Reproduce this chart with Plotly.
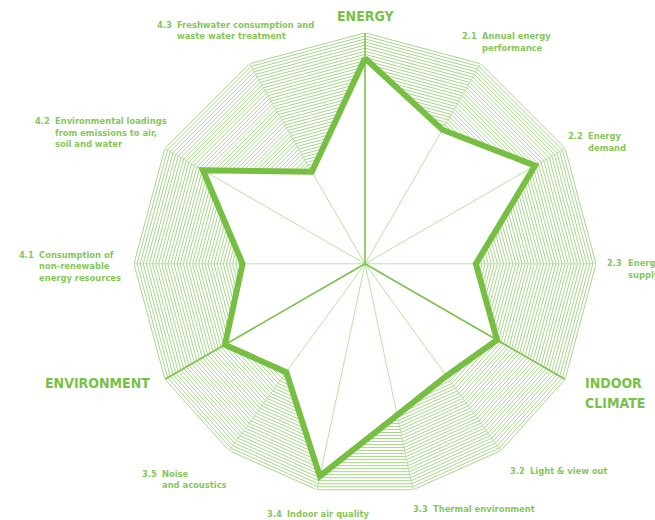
import plotly.graph_objects as go

# ---------------- data ----------------
axis_names = ["ENERGY", "2.1", "2.2", "2.3", "INDOOR CLIMATE", "3.2", "3.3",
              "3.4", "3.5", "ENVIRONMENT", "4.1", "4.2", "4.3"]
axis_angles = [0, 30, 60, 90, 120, 144, 168, 192, 216, 240, 270, 300, 330]
values = [89, 67, 85, 48, 66, 60, 67, 94, 58, 70, 53, 81, 46]
section_axes = ["ENERGY", "INDOOR CLIMATE", "ENVIRONMENT"]

item_codes = ["2.1", "2.2", "2.3", "3.2", "3.3", "3.4", "3.5", "4.1", "4.2", "4.3"]
item_texts = [
    ["Annual energy", "performance"],
    ["Energy", "demand"],
    ["Energy", "supply"],
    ["Light & view out"],
    ["Thermal environment"],
    ["Indoor air quality"],
    ["Noise", "and acoustics"],
    ["Consumption of", "non-renewable", "energy resources"],
    ["Environmental loadings", "from emissions to air,", "soil and water"],
    ["Freshwater consumption and", "waste water treatment"],
]
section_texts = [["ENERGY"], ["INDOOR", "CLIMATE"], ["ENVIRONMENT"]]

R_MAX = 100
N_LEVELS = 75

# ---------------- styles ----------------
W, H = 655, 520
CX, CY, RPX = 365, 263.8, 231
LINE_GREEN = "#77bf42"
HATCH = "#98ce76"
SPOKE_THIN = "#bbe1a3"
SPOKE_MAIN = "#7cc24b"
TEXT_GREEN = "#86c75b"
TITLE_GREEN = "#79c145"
FONT = "DejaVu Sans Condensed, Liberation Sans Narrow, sans-serif"

# label layout (pixels): number-left x, text-left x, first-line y
item_pos = {
    "2.1": (460, 480, 35.7),
    "2.2": (566, 586, 136),
    "2.3": (605, 626, 262.5),
    "3.2": (508, 528, 470),
    "3.3": (411, 431, 508.5),
    "3.4": (265, 285, 513),
    "3.5": (140, 160, 473),
    "4.1": (17, 36.7, 254.3),
    "4.2": (32.7, 53.3, 120.7),
    "4.3": (155, 175, 24),
}
section_pos = [(365, 16, "center"), (582.7, 383.3, "left"), (43, 383, "left")]
LINE_GAP = 11.5
SECTION_GAP = 19.4

fig = go.Figure()

# concentric hatch polygons
hr, ht = [], []
closed_angles = axis_angles + [axis_angles[0]]
for k in range(1, N_LEVELS + 1):
    r = R_MAX * k / N_LEVELS
    hr += [r] * len(closed_angles) + [None]
    ht += closed_angles + [None]
fig.add_trace(go.Scatterpolar(r=hr, theta=ht, mode="lines",
                              line=dict(color=HATCH, width=0.85),
                              hoverinfo="skip", connectgaps=False))

# white interior of the data polygon
closed_vals = values + [values[0]]
fig.add_trace(go.Scatterpolar(r=closed_vals, theta=closed_angles, mode="lines",
                              fill="toself", fillcolor="white",
                              line=dict(color="rgba(0,0,0,0)", width=0),
                              hoverinfo="skip"))

# spokes
tr, tt, mr, mt = [], [], [], []
for name, ang in zip(axis_names, axis_angles):
    if name in section_axes:
        mr += [0, R_MAX, None]; mt += [ang, ang, None]
    else:
        tr += [0, R_MAX, None]; tt += [ang, ang, None]
fig.add_trace(go.Scatterpolar(r=tr, theta=tt, mode="lines",
                              line=dict(color=SPOKE_THIN, width=1),
                              hoverinfo="skip", connectgaps=False))
fig.add_trace(go.Scatterpolar(r=mr, theta=mt, mode="lines",
                              line=dict(color=SPOKE_MAIN, width=1.6),
                              hoverinfo="skip", connectgaps=False))

# data line
fig.add_trace(go.Scatterpolar(r=closed_vals, theta=closed_angles, mode="lines",
                              line=dict(color=LINE_GREEN, width=6),
                              hoverinfo="skip"))

# ---------------- annotations ----------------
ann = []
def px(x):
    return x / W
def py(y):
    return 1 - y / H

for code, lines in zip(item_codes, item_texts):
    nx, tx, y0 = item_pos[code]
    ann.append(dict(x=px(nx), y=py(y0), xref="paper", yref="paper",
                    text="<b>" + code + "</b>",
                    showarrow=False, xanchor="left", yanchor="middle",
                    font=dict(family=FONT, size=9.3, color=TEXT_GREEN)))
    for i, ln in enumerate(lines):
        ann.append(dict(x=px(tx), y=py(y0 + i * LINE_GAP), xref="paper", yref="paper",
                        text="<b>" + ln + "</b>", showarrow=False, xanchor="left",
                        yanchor="middle",
                        font=dict(family=FONT, size=9.3, color=TEXT_GREEN)))

for (sx, sy, anchor), lines in zip(section_pos, section_texts):
    for i, ln in enumerate(lines):
        ann.append(dict(x=px(sx), y=py(sy + i * SECTION_GAP), xref="paper", yref="paper",
                        text="<b>" + ln + "</b>", showarrow=False, xanchor=anchor,
                        yanchor="middle",
                        font=dict(family=FONT, size=14, color=TITLE_GREEN)))

fig.update_layout(
    width=W, height=H,
    margin=dict(l=0, r=0, t=0, b=0),
    paper_bgcolor="white", plot_bgcolor="white",
    showlegend=False,
    annotations=ann,
    polar=dict(
        domain=dict(x=[(CX - RPX) / W, (CX + RPX) / W],
                    y=[(H - CY - RPX) / H, (H - CY + RPX) / H]),
        bgcolor="rgba(0,0,0,0)",
        radialaxis=dict(range=[0, R_MAX], visible=False),
        angularaxis=dict(rotation=90, direction="clockwise", visible=False,
                         showgrid=False, showline=False),
    ),
)

fig.write_html("out.html",
               config={"displayModeBar": False},
               post_script="document.body.style.margin='0';document.body.style.overflow='hidden';")
